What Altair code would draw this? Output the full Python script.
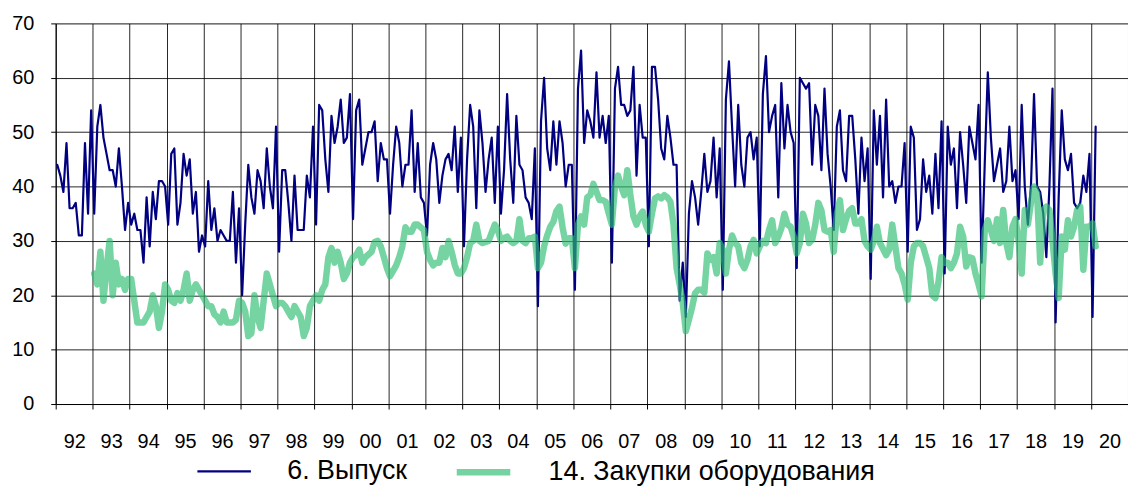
import altair as alt
import pandas as pd

# ---- data -------------------------------------------------------------
series_names = ["6. Выпуск", "14. Закупки оборудования"]

# monthly values, Jan 1992 .. Feb 2020
blue_values = [
    44, 42, 39, 48, 36, 36, 37, 31, 31, 48, 35, 54,   # 1992
    35, 51, 55, 49, 46, 43, 43, 40, 47, 40, 32, 37,   # 1993
    33, 35, 32, 32, 26, 38, 29, 39, 34, 41, 41, 40,   # 1994
    33, 46, 47, 33, 37, 46, 42, 45, 35, 39, 28, 31,   # 1995
    29, 41, 32, 36, 30, 32, 31, 30, 30, 39, 26, 36,   # 1996
    20, 33, 44, 38, 35, 43, 41, 36, 47, 40, 36, 51,   # 1997
    28, 43, 43, 37, 30, 42, 32, 32, 32, 42, 38, 51,   # 1998
    33, 55, 54, 45, 39, 53, 48, 51, 56, 48, 49, 57,   # 1999
    34, 54, 56, 44, 47, 50, 50, 52, 41, 48, 45, 45,   # 2000
    35, 44, 51, 48, 40, 44, 44, 54, 39, 48, 38, 37,   # 2001
    31, 44, 48, 45, 37, 42, 45, 46, 43, 51, 39, 49,   # 2002
    29, 45, 55, 51, 36, 54, 48, 39, 45, 49, 37, 51,   # 2003
    35, 43, 57, 45, 37, 53, 44, 43, 38, 37, 34, 47,   # 2004
    18, 52, 60, 47, 43, 52, 44, 52, 48, 40, 44, 44,   # 2005
    21, 58, 65, 48, 54, 52, 49, 61, 49, 53, 48, 53,   # 2006
    26, 58, 62, 55, 55, 53, 54, 62, 42, 55, 49, 49,   # 2007
    29, 62, 62, 56, 47, 45, 53, 49, 44, 44, 19, 26,   # 2008
    16, 35, 41, 38, 33, 39, 46, 39, 41, 49, 38, 47,   # 2009
    21, 56, 63, 51, 40, 55, 44, 40, 49, 50, 45, 49,   # 2010
    29, 57, 64, 50, 53, 55, 38, 59, 47, 55, 50, 48,   # 2011
    25, 60, 59, 58, 59, 44, 55, 53, 43, 58, 46, 40,   # 2012
    32, 51, 54, 43, 41, 53, 53, 45, 35, 49, 41, 47,   # 2013
    23, 54, 44, 53, 38, 56, 40, 41, 37, 40, 40, 48,   # 2014
    28, 51, 49, 32, 34, 45, 39, 42, 35, 46, 36, 52,   # 2015
    24, 51, 44, 47, 36, 50, 44, 37, 51, 48, 45, 55,   # 2016
    26, 44, 61, 49, 41, 44, 47, 39, 41, 51, 41, 43,   # 2017
    34, 55, 40, 33, 40, 57, 40, 39, 35, 27, 40, 58,   # 2018
    15, 38, 54, 45, 43, 46, 37, 36, 37, 42, 39, 46,   # 2019
    16, 51,                                           # 2020
]
blue_start = 1992

# monthly values, Jan 1993 .. Feb 2020
green_values = [
    24, 22, 28, 19, 25, 30, 20, 26, 22, 23, 21, 23,                       # 1993
    23, 19, 15, 15, 15, 16, 17, 20, 18, 14, 17, 22,                       # 1994
    21, 19, 18.6, 20.4, 19, 21, 24, 19, 21, 22, 21, 20,                   # 1995
    19, 18, 18, 16.5, 16, 15, 17, 15, 15, 15, 15.5, 19,                   # 1996
    18.6, 17, 12.5, 13, 20, 16, 14, 19, 24, 22, 20, 18,                   # 1997
    18.6, 18.6, 18, 17, 16, 18, 17, 16, 12.5, 14, 18, 19,                 # 1998
    20, 19, 21, 22, 27, 28.7, 26, 28, 26, 23, 24, 26,                     # 1999
    27, 27.4, 28.4, 26, 27, 27.5, 28, 29.8, 30, 29, 27, 25,               # 2000
    23.5, 24.5, 25.5, 27, 29, 32.5, 31.7, 31.7, 33, 33, 32.5, 32,         # 2001
    28, 26.5, 25.5, 26, 26, 28.7, 27, 30, 28, 25.6, 24, 24,               # 2002
    25, 27, 29.6, 30, 33, 30, 29.6, 29.8, 30, 31.5, 33, 32,               # 2003
    30, 30.5, 30.8, 30, 29.6, 30, 34, 30, 29.6, 30.5, 30.5, 30.8,         # 2004
    25, 26, 29, 31, 32.6, 33.5, 35.5, 36.3, 32.5, 29.5, 30.5, 30.5,       # 2005
    25, 33, 34.5, 33, 38, 38.4, 40.5, 39, 37.5, 37.5, 37.2, 35,           # 2006
    33, 40, 42, 40, 38.4, 43, 38.4, 34.5, 33, 34.5, 35.4, 33,             # 2007
    31.7, 35, 37.8, 38.2, 37.8, 38.4, 38, 37.2, 33, 25, 22, 18.6,         # 2008
    13.4, 15.5, 17.7, 20.4, 21, 21, 20.5, 27.7, 26.5, 27, 24, 29.6,       # 2009
    28.4, 24, 28.4, 31, 29.6, 29, 26, 25, 26.5, 29, 30.2, 27.7,           # 2010
    29, 30, 29.6, 32, 33.8, 29.6, 30.8, 32.3, 35, 33, 32.6, 30.8,         # 2011
    27.7, 29.6, 35, 33.2, 29.6, 30.2, 33, 37, 35.6, 32, 31.7, 32,         # 2012
    28, 35, 37.5, 32, 34, 35.5, 36, 33.2, 33.2, 34, 30, 29,               # 2013
    28.4, 30, 32.6, 29.6, 28.5, 27.4, 28.4, 33, 29, 25, 24, 22,           # 2014
    19.2, 26, 29, 29.6, 29.6, 29, 27, 25, 20, 19.5, 22.5, 27,             # 2015
    26, 26, 25, 26, 27.7, 32.6, 30.8, 25.3, 27, 26.8, 24, 22,             # 2016
    19.8, 32, 33.8, 32, 30, 34, 29.6, 35.7, 29.6, 27, 32.6, 34,           # 2017
    30, 24, 35.7, 33, 37, 40, 38.7, 26, 35.7, 36.3, 35.7, 30,             # 2018
    24, 19.5, 30.8, 28.4, 33.8, 30.8, 32.6, 35.7, 36.3, 24.7, 32.6, 32.6, # 2019
    33.2, 29,                                                             # 2020
]
green_start = 1993

year_ticks = list(range(1992, 2022))
year_labels = ["92", "93", "94", "95", "96", "97", "98", "99", "00", "01",
               "02", "03", "04", "05", "06", "07", "08", "09", "10", "11",
               "12", "13", "14", "15", "16", "17", "18", "19", "20"]
y_ticks = [0, 10, 20, 30, 40, 50, 60, 70]

# ---- table (each month placed at the middle of its slot) ---------------
rows = []
for i, v in enumerate(blue_values):
    rows.append({"t": blue_start + (i + 0.5) / 12, "value": v, "series": series_names[0]})
for i, v in enumerate(green_values):
    rows.append({"t": green_start + (i + 0.5) / 12, "value": v, "series": series_names[1]})
df = pd.DataFrame(rows)

FONT = "Liberation Sans"
label_js = "[" + ",".join("'%s'" % s for s in year_labels) + "]"

legend = alt.Legend(
    title=None, orient="none", legendX=141, legendY=421, direction="horizontal",
    symbolType="stroke", symbolSize=2900, labelFontSize=27, labelFont=FONT,
    labelColor="#000000", labelOffset=35, columnPadding=36, labelLimit=0,
    padding=0,
)

x_enc = alt.X(
    "t:Q",
    scale=alt.Scale(domain=[1992, 2021], nice=False, zero=False),
    axis=alt.Axis(
        values=year_ticks, labelExpr=label_js + "[round(datum.value) - 1992] || ''",
        labelOffset=18.6, labelFlush=False, labelOverlap=False,
        tickSize=5, tickColor="#000000", labelPadding=23, labelFontSize=20,
        labelFont=FONT, labelColor="#000000", grid=True, gridColor="#000000",
        gridOpacity=0.85, domainColor="#000000", title=None,
    ),
)
y_enc = alt.Y(
    "value:Q",
    scale=alt.Scale(domain=[0, 70], nice=False),
    axis=alt.Axis(
        values=y_ticks, tickSize=5, tickColor="#000000", labelPadding=17,
        labelFontSize=20, labelFont=FONT, labelColor="#000000", grid=True,
        gridColor="#000000", gridOpacity=0.85, domainColor="#000000", title=None,
    ),
)
color_enc = alt.Color(
    "series:N", title=None,
    scale=alt.Scale(domain=series_names, range=["#000080", "#2EBD72"]),
    legend=legend,
)
width_enc = alt.StrokeWidth(
    "series:N", title=None,
    scale=alt.Scale(domain=series_names, range=[2.2, 6.5]),
    legend=legend,
)
opacity_enc = alt.Opacity(
    "series:N", title=None,
    scale=alt.Scale(domain=series_names, range=[1.0, 0.66]),
    legend=legend,
)

base = alt.Chart(df).mark_line(strokeJoin="round", strokeCap="round").encode(
    x=x_enc, y=y_enc, color=color_enc, strokeWidth=width_enc,
    opacity=opacity_enc, detail="series:N",
)
blue = base.transform_filter(alt.datum.series == series_names[0])
green = base.transform_filter(alt.datum.series == series_names[1])

chart = (
    alt.layer(blue, green)
    .properties(
        width=1079, height=383,
        autosize=alt.AutoSizeParams(type="none"),
        padding={"left": 48, "top": 14, "right": 0, "bottom": 82},
    )
    .configure_view(stroke=None)
    .configure(background="white")
)

chart.save("out.html", embed_options={"renderer": "svg", "actions": False})
